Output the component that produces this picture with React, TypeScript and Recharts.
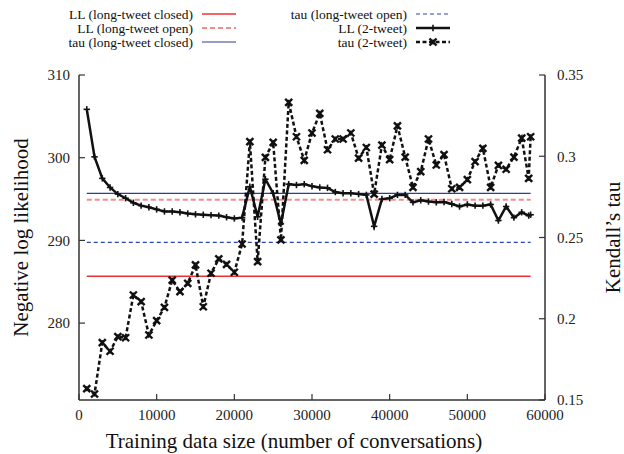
import React from 'react';
import { LineChart, Line, XAxis, YAxis, Legend, Label } from 'recharts';

// ---------- data ----------
const sizes = [
  1000, 2000, 3000, 4000, 5000, 6000, 7000, 8000, 9000, 10000,
  11000, 12000, 13000, 14000, 15000, 16000, 17000, 18000, 19000, 20000,
  21000, 22000, 23000, 24000, 25000, 26000, 27000, 28000, 29000, 30000,
  31000, 32000, 33000, 34000, 35000, 36000, 37000, 38000, 39000, 40000,
  41000, 42000, 43000, 44000, 45000, 46000, 47000, 48000, 49000, 50000,
  51000, 52000, 53000, 54000, 55000, 56000, 57000, 57900, 58150,
];

const ll2Tweet = [
  305.85, 300.1, 297.5, 296.4, 295.6, 295.1, 294.55, 294.2, 294.0, 293.75,
  293.5, 293.5, 293.4, 293.25, 293.15, 293.1, 293.05, 293.0, 292.8, 292.65,
  292.75, 296.5, 292.85, 297.4, 295.7, 292.0, 296.8, 296.7, 296.8, 296.55,
  296.4, 296.35, 295.85, 295.7, 295.7, 295.6, 295.5, 291.7, 295.0, 295.1,
  295.5, 295.5, 294.6, 294.85, 294.7, 294.6, 294.65, 294.4, 294.1, 294.35,
  294.2, 294.2, 294.35, 292.4, 294.1, 292.75, 293.4, 293.0, 293.1,
];

const tau2Tweet = [
  0.157, 0.1537, 0.1853, 0.18, 0.189, 0.1883, 0.2146, 0.2105, 0.19, 0.1988,
  0.207, 0.2238, 0.2167, 0.2218, 0.2331, 0.2074, 0.228, 0.2368, 0.2335, 0.2286,
  0.246, 0.309, 0.2351, 0.2993, 0.3085, 0.2485, 0.3332, 0.312, 0.2975, 0.3143,
  0.3264, 0.304, 0.3106, 0.3106, 0.3143, 0.2989, 0.3054, 0.2767, 0.3069, 0.2979,
  0.3187, 0.2995, 0.2809, 0.2905, 0.3106, 0.2946, 0.301, 0.28, 0.2808, 0.2856,
  0.2967, 0.3049, 0.2809, 0.2944, 0.292, 0.2995, 0.3112, 0.2864, 0.312,
];

const llLongClosed = 285.65;
const llLongOpen = 294.9;
const tauLongClosed = 0.2772;
const tauLongOpen = 0.247;

const xTicks = [0, 10000, 20000, 30000, 40000, 50000, 60000];
const llTicks = [280, 290, 300, 310];
const llMirrorTicks = [280, 290, 300];
const tauTicks = [0.15, 0.2, 0.25, 0.3, 0.35];

const seriesNames = {
  llClosed: 'LL (long-tweet closed)',
  llOpen: 'LL (long-tweet open)',
  tauClosed: 'tau (long-tweet closed)',
  tauOpen: 'tau (long-tweet open)',
  ll2: 'LL (2-tweet)',
  tau2: 'tau (2-tweet)',
};

const data = sizes.map((size, i) => ({
  size,
  ll2: ll2Tweet[i],
  tau2: tau2Tweet[i],
  llClosed: llLongClosed,
  llOpen: llLongOpen,
  tauClosed: tauLongClosed,
  tauOpen: tauLongOpen,
}));

// ---------- styles ----------
const FONT = "'Liberation Serif', 'DejaVu Serif', serif";
const AXIS = '#333';
const TICK_FILL = '#222';

const styles: Record<string, { stroke: string; width: number; dash?: string; marker?: 'plus' | 'cross' }> = {
  llClosed: { stroke: '#ec3036', width: 1.5 },
  llOpen: { stroke: '#f58a8a', width: 2, dash: '5 3' },
  tauClosed: { stroke: '#2b3f93', width: 1.2 },
  tauOpen: { stroke: '#2a46ad', width: 1.2, dash: '4 3' },
  ll2: { stroke: '#111', width: 2.5, marker: 'plus' },
  tau2: { stroke: '#111', width: 2.5, dash: '4 2.5', marker: 'cross' },
};

const PlusMark = (cx: number, cy: number, key?: string) => (
  <g key={key}>
    <line x1={cx - 3.2} y1={cy} x2={cx + 3.2} y2={cy} stroke="#111" strokeWidth={1.6} />
    <line x1={cx} y1={cy - 3.2} x2={cx} y2={cy + 3.2} stroke="#111" strokeWidth={1.6} />
  </g>
);

const CrossMark = (cx: number, cy: number, key?: string) => (
  <g key={key}>
    <line x1={cx - 3.5} y1={cy - 3.5} x2={cx + 3.5} y2={cy + 3.5} stroke="#111" strokeWidth={2.4} />
    <line x1={cx - 3.5} y1={cy + 3.5} x2={cx + 3.5} y2={cy - 3.5} stroke="#111" strokeWidth={2.4} />
    <line x1={cx} y1={cy - 2.5} x2={cx} y2={cy + 2.5} stroke="#111" strokeWidth={1.4} />
  </g>
);

const plusDot = (p: any) => PlusMark(p.cx, p.cy, `pd-${p.index}`);
const crossDot = (p: any) => CrossMark(p.cx, p.cy, `cd-${p.index}`);

const tickTextStyle = { fontFamily: FONT, fontSize: 15, fill: TICK_FILL };

// ---------- ticks (inward tick marks, labels outside) ----------
const BottomTick = (p: any) => (
  <g>
    <line x1={p.x} y1={p.y - 15} x2={p.x} y2={p.y - 21} stroke={AXIS} strokeWidth={1.2} />
    <text x={p.x} y={p.y} dy="0.35em" textAnchor="middle" style={tickTextStyle}>
      {p.payload.value}
    </text>
  </g>
);

const TopTick = (p: any) => (
  <line x1={p.x} y1={p.y} x2={p.x} y2={p.y + 6} stroke={AXIS} strokeWidth={1.2} />
);

const LeftTick = (p: any) => (
  <g>
    <line x1={p.x + 9} y1={p.y} x2={p.x + 15} y2={p.y} stroke={AXIS} strokeWidth={1.2} />
    <text x={p.x} y={p.y} dy="0.35em" textAnchor="end" style={tickTextStyle}>
      {p.payload.value}
    </text>
  </g>
);

const RightTick = (p: any) => (
  <g>
    <line x1={p.x - 12} y1={p.y} x2={p.x - 18} y2={p.y} stroke={AXIS} strokeWidth={1.2} />
    <text x={p.x} y={p.y} dy="0.35em" textAnchor="start" style={tickTextStyle}>
      {String(p.payload.value)}
    </text>
  </g>
);

const RightMirrorTick = (p: any) => (
  <line x1={p.x} y1={p.y} x2={p.x - 6} y2={p.y} stroke={AXIS} strokeWidth={1.2} />
);

// ---------- legend ----------
const legendSlots: Record<string, [number, number]> = {
  llClosed: [0, 0],
  llOpen: [0, 1],
  tauClosed: [0, 2],
  tauOpen: [1, 0],
  ll2: [1, 1],
  tau2: [1, 2],
};
const colTextEnd = [193, 407];
const colSampleStart = [202, 416];
const SAMPLE_LEN = 34;
const rowY = [14, 28, 42];

const LegendContent = (props: any) => {
  const payload: any[] = props.payload || [];
  return (
    <svg width={624} height={52} style={{ display: 'block' }}>
      {payload.map((item: any) => {
        const key = String(item.dataKey);
        const slot = legendSlots[key];
        if (!slot) return null;
        const st = styles[key];
        const y = rowY[slot[1]];
        const x0 = colSampleStart[slot[0]];
        const xm = x0 + SAMPLE_LEN / 2;
        return (
          <g key={key}>
            <text x={colTextEnd[slot[0]]} y={y} dy="0.35em" textAnchor="end" style={{ fontFamily: FONT, fontSize: 13.5, fill: '#111' }}>
              {item.value}
            </text>
            <line x1={x0} y1={y} x2={x0 + SAMPLE_LEN} y2={y} stroke={st.stroke} strokeWidth={st.width} strokeDasharray={st.dash} />
            {st.marker === 'plus' ? PlusMark(xm, y) : null}
            {st.marker === 'cross' ? CrossMark(xm, y) : null}
          </g>
        );
      })}
    </svg>
  );
};

export default function App() {
  const order = ['llClosed', 'llOpen', 'tauClosed', 'tauOpen', 'll2', 'tau2'];
  return (
    <div style={{ position: 'absolute', left: 0, top: 0, width: 624, height: 454, background: '#fff' }}>
      <LineChart
        width={624}
        height={454}
        data={data}
        margin={{ top: 75, right: 0, bottom: 0, left: 0 }}
        style={{ fontFamily: FONT }}
      >
        <XAxis
          xAxisId={0}
          dataKey="size"
          type="number"
          domain={[0, 60000]}
          ticks={xTicks}
          allowDataOverflow
          height={54}
          tickSize={0}
          tickMargin={15}
          tick={BottomTick}
          axisLine={{ stroke: AXIS, strokeWidth: 1.5 }}
          tickLine={false}
          interval={0}
        >
          <Label
            value="Training data size (number of conversations)"
            position="insideBottom"
            offset={6}
            dx={-18}
            style={{ fontFamily: FONT, fontSize: 21, fill: '#111' }}
          />
        </XAxis>
        <XAxis
          xAxisId="top"
          dataKey="size"
          orientation="top"
          type="number"
          domain={[0, 60000]}
          ticks={xTicks}
          allowDataOverflow
          height={0}
          tickSize={0}
          tickMargin={0}
          tick={TopTick}
          axisLine={{ stroke: AXIS, strokeWidth: 1.5 }}
          tickLine={false}
          interval={0}
        />
        <YAxis
          yAxisId="ll"
          orientation="left"
          type="number"
          domain={[270.7, 310]}
          ticks={llTicks}
          allowDataOverflow
          width={79}
          tickSize={0}
          tickMargin={9}
          tick={LeftTick}
          axisLine={{ stroke: AXIS, strokeWidth: 1.5 }}
          tickLine={false}
          interval={0}
        >
          <Label
            value="Negative log likelihood"
            position="center"
            angle={-90}
            dx={-18.5}
            style={{ fontFamily: FONT, fontSize: 21, fill: '#111', textAnchor: 'middle' }}
          />
        </YAxis>
        <YAxis
          yAxisId="llMirror"
          orientation="right"
          type="number"
          domain={[270.7, 310]}
          ticks={llMirrorTicks}
          allowDataOverflow
          width={0}
          tickSize={0}
          tickMargin={0}
          tick={RightMirrorTick}
          axisLine={false}
          tickLine={false}
          interval={0}
        />
        <YAxis
          yAxisId="tau"
          orientation="right"
          type="number"
          domain={[0.15, 0.35]}
          ticks={tauTicks}
          allowDataOverflow
          width={79}
          tickSize={0}
          tickMargin={12}
          tick={RightTick}
          axisLine={{ stroke: AXIS, strokeWidth: 1.5 }}
          tickLine={false}
          interval={0}
        >
          <Label
            value="Kendall’s tau"
            position="center"
            angle={-90}
            dx={28.5}
            style={{ fontFamily: FONT, fontSize: 21, fill: '#111', textAnchor: 'middle' }}
          />
        </YAxis>
        <Legend
          layout="horizontal"
          verticalAlign="middle"
          align="center"
          wrapperStyle={{ position: 'absolute', top: 0, left: 0, width: 624, height: 52 }}
          content={LegendContent}
        />
        {order.map((key) => {
          const st = styles[key];
          const isLL = key.startsWith('ll');
          return (
            <Line
              key={key}
              dataKey={key}
              name={(seriesNames as any)[key]}
              yAxisId={isLL ? 'll' : 'tau'}
              xAxisId={0}
              type="linear"
              stroke={st.stroke}
              strokeWidth={st.width}
              strokeDasharray={st.dash}
              dot={st.marker === 'plus' ? plusDot : st.marker === 'cross' ? crossDot : false}
              activeDot={false}
              isAnimationActive={false}
            />
          );
        })}
      </LineChart>
    </div>
  );
}
